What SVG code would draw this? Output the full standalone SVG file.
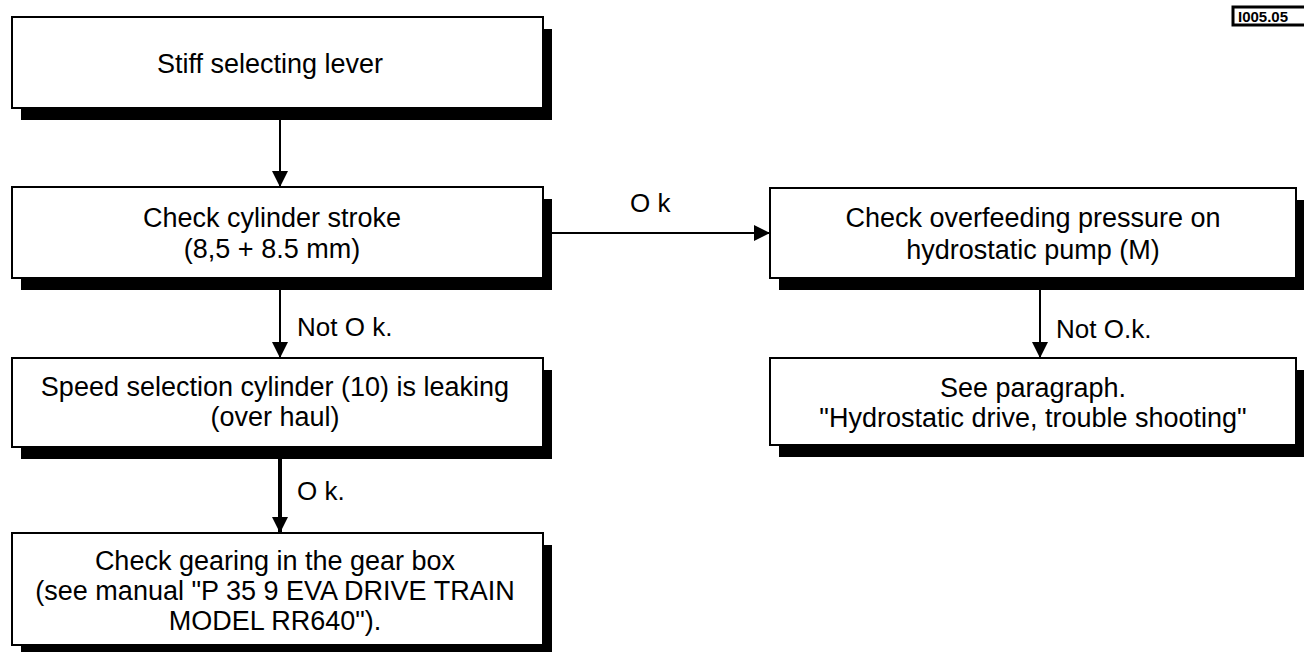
<svg xmlns="http://www.w3.org/2000/svg" width="1304" height="652" viewBox="0 0 1304 652">
  <style>
    .shadow { fill: #000; }
    .box { fill: #fff; stroke: #000; stroke-width: 2; }
    .t { font-family: "Liberation Sans", Arial, sans-serif; font-size: 27px; fill: #000; text-anchor: middle; }
    .lbl { font-family: "Liberation Sans", Arial, sans-serif; font-size: 26px; fill: #000; }
    .line { stroke: #000; stroke-width: 2; fill: none; }
    .thick { stroke: #000; stroke-width: 4; fill: none; }
  </style>
  <defs>
    <marker id="head" viewBox="0 0 16 16" refX="16" refY="8" markerWidth="16" markerHeight="16" markerUnits="userSpaceOnUse" orient="auto">
      <path d="M0,0 L16,8 L0,16 Z" fill="#000"/>
    </marker>
  </defs>
  <rect width="1304" height="652" fill="#fff"/>

  <!-- reference tag, top right -->
  <g id="tag">
    <rect x="1233" y="7" width="80" height="18" fill="#fff" stroke="#000" stroke-width="3"/>
    <text x="1238" y="22" font-family="Liberation Sans, Arial, sans-serif" font-size="15" font-weight="bold">I005.05</text>
  </g>

  <!-- connectors -->
  <g id="connectors">
    <line class="line" x1="280" y1="120" x2="280" y2="187" marker-end="url(#head)"/>
    <line class="line" x1="280" y1="290" x2="280" y2="358" marker-end="url(#head)"/>
    <text class="lbl" x="297" y="336">Not O k.</text>
    <line class="thick" x1="280" y1="459" x2="280" y2="533" marker-end="url(#head)"/>
    <text class="lbl" x="297" y="500">O k.</text>
    <line class="line" x1="552" y1="233" x2="770" y2="233" marker-end="url(#head)"/>
    <text class="lbl" x="630" y="212">O k</text>
    <line class="line" x1="1040" y1="290" x2="1040" y2="358" marker-end="url(#head)"/>
    <text class="lbl" x="1056" y="338">Not O.k.</text>
  </g>

  <g id="n-stiff-lever">
    <rect class="shadow" x="21" y="29" width="531" height="91"/>
    <rect class="box" x="12" y="17" width="531" height="91"/>
    <text class="t" x="270" y="73">Stiff selecting lever</text>
  </g>

  <g id="n-cylinder-stroke">
    <rect class="shadow" x="21" y="199" width="531" height="91"/>
    <rect class="box" x="12" y="187" width="531" height="91"/>
    <text class="t" x="272" y="227">Check cylinder stroke</text>
    <text class="t" x="272" y="258">(8,5 + 8.5 mm)</text>
  </g>

  <g id="n-cylinder-leaking">
    <rect class="shadow" x="21" y="370" width="531" height="89"/>
    <rect class="box" x="12" y="358" width="531" height="89"/>
    <text class="t" x="275" y="396">Speed selection cylinder (10) is leaking</text>
    <text class="t" x="275" y="426">(over haul)</text>
  </g>

  <g id="n-gearing">
    <rect class="shadow" x="21" y="545" width="531" height="112"/>
    <rect class="box" x="12" y="533" width="531" height="112"/>
    <text class="t" x="275" y="570">Check gearing in the gear box</text>
    <text class="t" x="275" y="600">(see manual "P 35 9 EVA DRIVE TRAIN</text>
    <text class="t" x="275" y="630">MODEL RR640").</text>
  </g>

  <g id="n-overfeeding">
    <rect class="shadow" x="779" y="200" width="526" height="90"/>
    <rect class="box" x="770" y="188" width="526" height="90"/>
    <text class="t" x="1033" y="227">Check overfeeding pressure on</text>
    <text class="t" x="1033" y="259">hydrostatic pump (M)</text>
  </g>

  <g id="n-see-paragraph">
    <rect class="shadow" x="779" y="370" width="526" height="87"/>
    <rect class="box" x="770" y="358" width="526" height="87"/>
    <text class="t" x="1033" y="397">See paragraph.</text>
    <text class="t" x="1033" y="427">"Hydrostatic drive, trouble shooting"</text>
  </g>
</svg>
